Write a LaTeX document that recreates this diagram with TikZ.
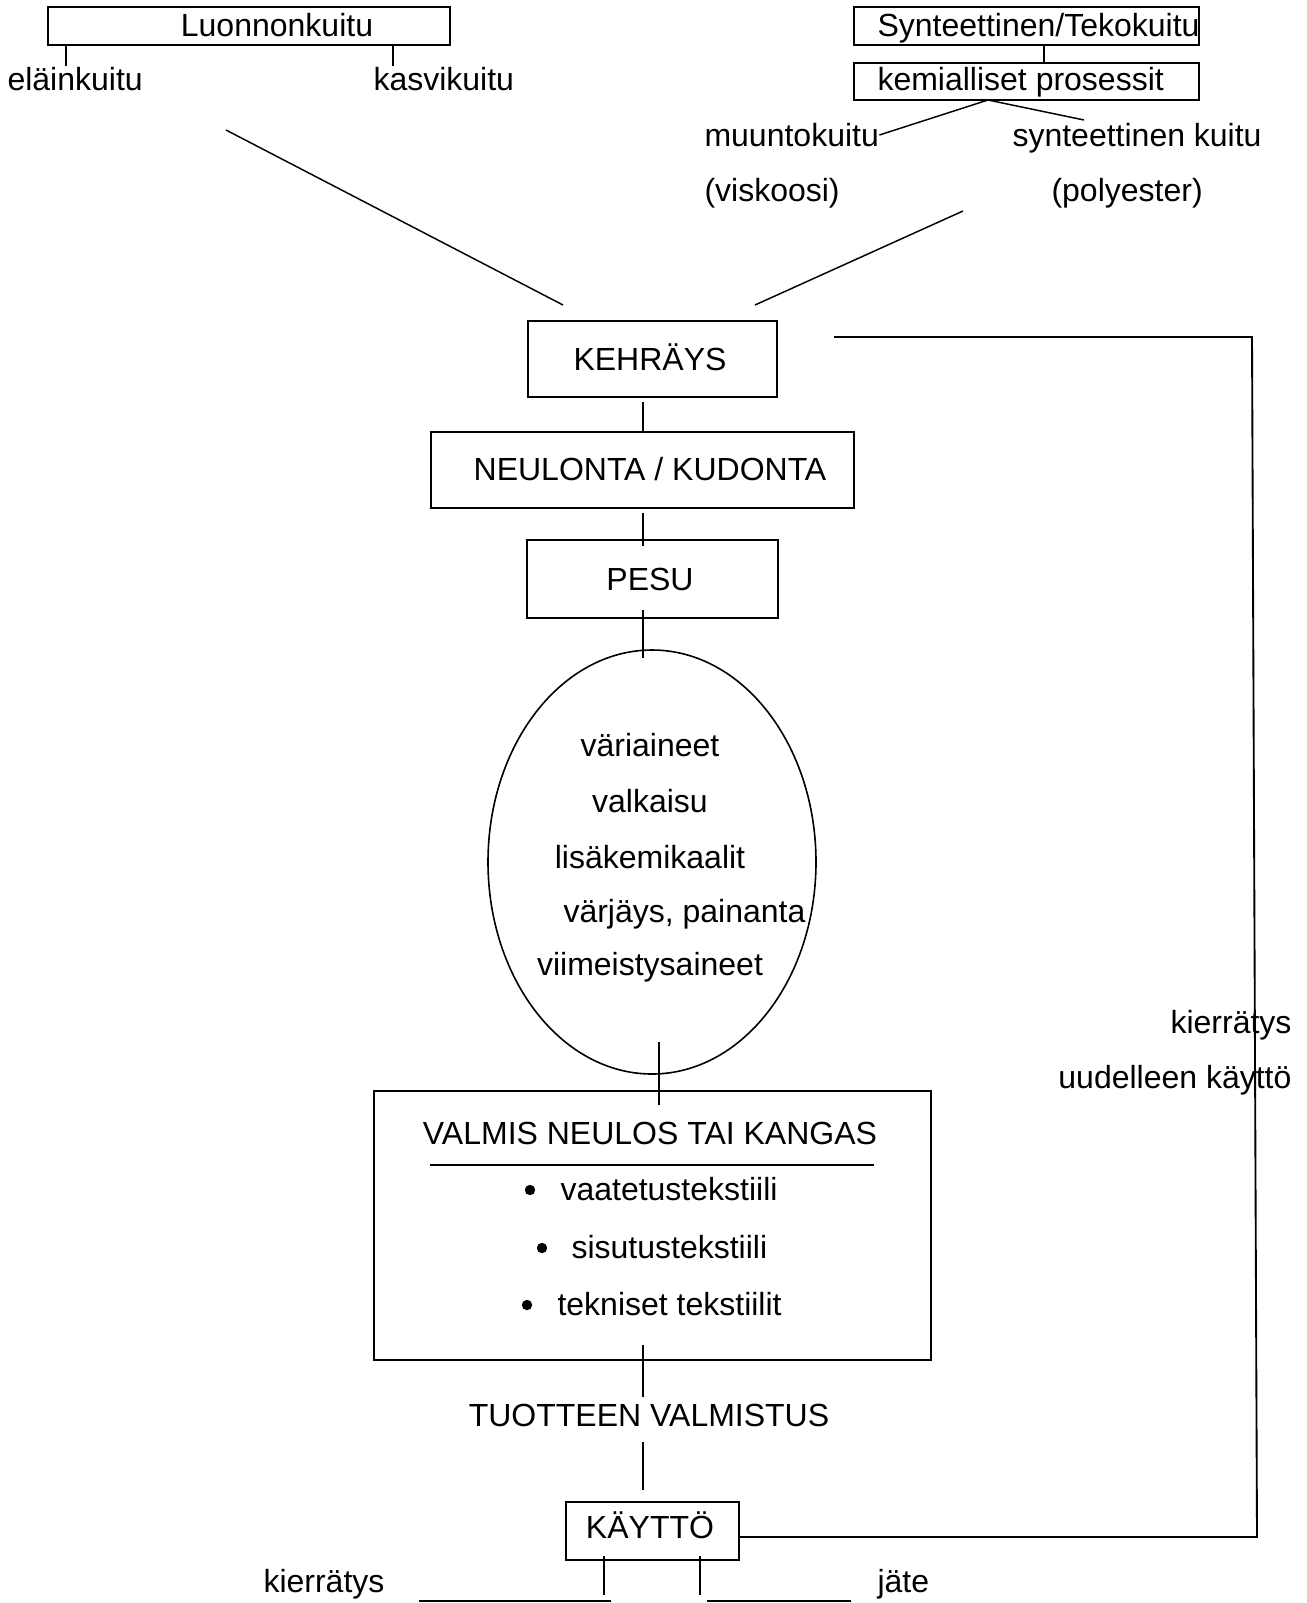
\documentclass[tikz,border=0pt]{standalone}
\usepackage{fontspec}
\setmainfont{Liberation Sans}
\usetikzlibrary{fit,shapes.geometric,calc}
\begin{document}
\begin{tikzpicture}[x=0.375pt,y=-0.375pt,
  box/.style={draw, line width=0.75pt, inner sep=0pt},
  txt/.style={inner sep=0pt, font=\fontsize{12pt}{14pt}\selectfont},
  ln/.style={line width=0.7pt},
  thin/.style={line width=0.55pt},
  dot/.style={fill, circle, inner sep=0pt, minimum size=3.9pt}]
\useasboundingbox (0,0) rectangle (1307,1603);

% boxes
\node[box, fit={(48,7)(450,45)}] (luo) {};
\node[box, fit={(854,7)(1199,45)}] (syn) {};
\node[box, fit={(854,63)(1199,100)}] (kem) {};
\node[box, fit={(528,321)(777,397)}] (keh) {};
\node[box, fit={(431,432)(854,508)}] (neu) {};
\node[box, fit={(527,540)(778,618)}] (pesu) {};
\node[draw, line width=0.6pt, ellipse, inner sep=0pt, minimum width=123pt, minimum height=159pt] (ell) at (652,862) {};
\node[box, fit={(374,1091)(931,1360)}] (val) {};
\node[box, fit={(566,1502)(739,1560)}] (kay) {};

% texts
\node[txt, anchor=base] (tluo) at (277,36) {Luonnonkuitu};
\node[txt, anchor=base west] (tela) at (7,90) {eläinkuitu};
\node[txt, anchor=base west] (tkas) at (373,90) {kasvikuitu};
\node[txt, anchor=base west] (tsyn) at (877,36) {Synteettinen/Tekokuitu};
\node[txt, anchor=base west] (tkem) at (877,90) {kemialliset prosessit};
\node[txt, anchor=base west] (tmuu) at (704,146) {muuntokuitu};
\node[txt, anchor=base west] (tsk) at (1012,146) {synteettinen kuitu};
\node[txt, anchor=base west] (tvis) at (704,201) {(viskoosi)};
\node[txt, anchor=base west] (tpol) at (1051,201) {(polyester)};
\node[txt, anchor=base] (tkeh) at (650,370) {KEHRÄYS};
\node[txt, anchor=base] (tneu) at (650,480) {NEULONTA / KUDONTA};
\node[txt, anchor=base] (tpesu) at (650,590) {PESU};
\node[txt, anchor=base] (e1) at (650,756) {väriaineet};
\node[txt, anchor=base] (e2) at (650,812) {valkaisu};
\node[txt, anchor=base] (e3) at (650,868) {lisäkemikaalit};
\node[txt, anchor=base west] (e4) at (563,922) {värjäys, painanta};
\node[txt, anchor=base] (e5) at (650,975) {viimeistysaineet};
\node[txt, anchor=base] (tval) at (650,1144) {VALMIS NEULOS TAI KANGAS};
\node[txt, anchor=base west] (b1) at (560,1200) {vaatetustekstiili};
\node[txt, anchor=base west] (b2) at (571,1258) {sisutustekstiili};
\node[txt, anchor=base west] (b3) at (557,1315) {tekniset tekstiilit};
\node[dot] (d1) at (530,1190) {};
\node[dot] (d2) at (542,1248) {};
\node[dot] (d3) at (527,1305) {};
\node[txt, anchor=base] (ttuo) at (649,1426) {TUOTTEEN VALMISTUS};
\node[txt, anchor=base] (tkay) at (650,1538) {KÄYTTÖ};
\node[txt, anchor=base east] (tkr) at (1292,1033) {kierrätys};
\node[txt, anchor=base east] (tuk) at (1292,1088) {uudelleen käyttö};
\node[txt, anchor=base west] (tkb) at (263,1592) {kierrätys};
\node[txt, anchor=base west] (tja) at (877,1592) {jäte};

% underline in VALMIS box
\draw[ln] (430,1165) -- (874,1165);

% top ticks
\draw[ln] ($(luo.south west)+(19,0)$) -- ++(0,20);
\draw[ln] ($(luo.south west)+(346,0)$) -- ++(0,20);
\draw[ln] ($(syn.south west)+(191,0)$) -- ($(kem.north west)+(191,0)$);

% kemialliset branches
\coordinate (kapex) at (988,100);
\coordinate (kright) at (1084,120);
\draw[thin] (tmuu.base east) ++(0,-11) coordinate (kleft) -- (kapex) -- (kright);

% diagonals towards KEHRAYS
\coordinate (dl1) at (226,130);
\coordinate (dl2) at (563,305);
\coordinate (dr1) at (963,211);
\coordinate (dr2) at (755,305);
\draw[thin] (dl1) -- (dl2);
\draw[thin] (dr1) -- (dr2);

% vertical chain
\coordinate (v1a) at (643,402); \coordinate (v1b) at (643,433);
\coordinate (v2a) at (643,513); \coordinate (v2b) at (643,546);
\coordinate (v3a) at (643,610); \coordinate (v3b) at (643,658);
\coordinate (v4a) at (659,1042); \coordinate (v4b) at (659,1105);
\coordinate (v5a) at (643,1345); \coordinate (v5b) at (643,1397);
\coordinate (v6a) at (643,1442); \coordinate (v6b) at (643,1490);
\draw[ln] (v1a) -- (v1b);
\draw[ln] (v2a) -- (v2b);
\draw[ln] (v3a) -- (v3b);
\draw[ln] (v4a) -- (v4b);
\draw[ln] (v5a) -- (v5b);
\draw[ln] (v6a) -- (v6b);

% recycling loop
\coordinate (r1) at (834,337);
\coordinate (r2) at (1252,337);
\coordinate (r3) at (1257,1537);
\coordinate (r4) at (739,1537);
\draw[ln] (r1) -- (r2) -- (r3) -- (r4);

% bottom branches
\coordinate (k1a) at (604,1556); \coordinate (k1b) at (604,1595);
\coordinate (k2a) at (700,1556); \coordinate (k2b) at (700,1595);
\draw[thin] (k1a) -- (k1b);
\draw[thin] (k2a) -- (k2b);
\coordinate (h1a) at (419,1601); \coordinate (h1b) at (611,1601);
\coordinate (h2a) at (707,1601); \coordinate (h2b) at (851,1601);
\draw[ln] (h1a) -- (h1b);
\draw[ln] (h2a) -- (h2b);
\end{tikzpicture}
\end{document}
